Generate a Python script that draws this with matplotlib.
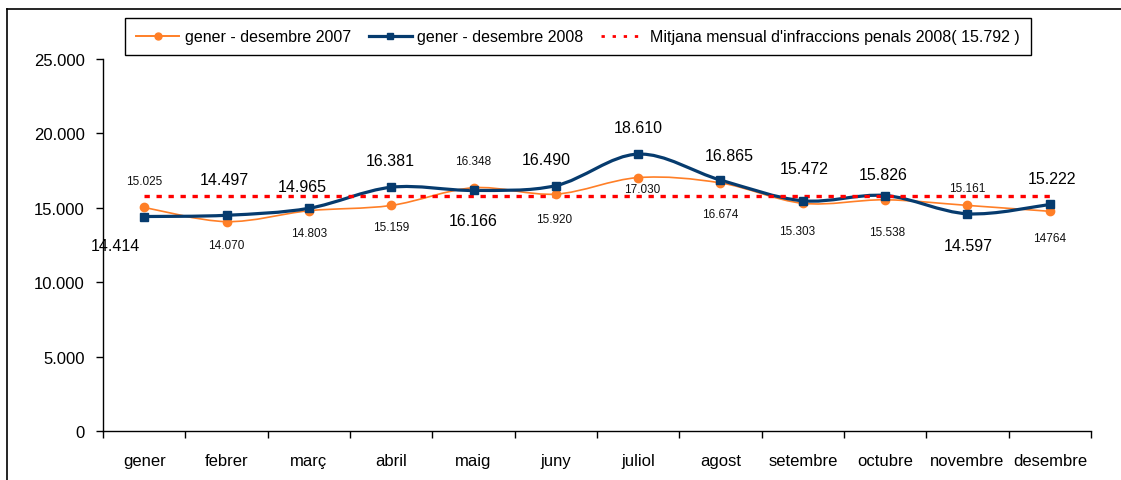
import matplotlib
matplotlib.use("Agg")
import matplotlib.pyplot as plt
from matplotlib.path import Path
from matplotlib.patches import PathPatch
from matplotlib.lines import Line2D
from matplotlib.ticker import FuncFormatter, FixedLocator
import numpy as np

plt.rcParams['font.family'] = ['Liberation Sans', 'DejaVu Sans']

# ---------------- data ----------------
months = ["gener", "febrer", "març", "abril", "maig", "juny", "juliol",
          "agost", "setembre", "octubre", "novembre", "desembre"]
values_2007 = [15025, 14070, 14803, 15159, 16348, 15920, 17030,
               16674, 15303, 15538, 15161, 14764]
labels_2007 = ["15.025", "14.070", "14.803", "15.159", "16.348", "15.920", "17.030",
               "16.674", "15.303", "15.538", "15.161", "14764"]
values_2008 = [14414, 14497, 14965, 16381, 16166, 16490, 18610,
               16865, 15472, 15826, 14597, 15222]
labels_2008 = ["14.414", "14.497", "14.965", "16.381", "16.166", "16.490", "18.610",
               "16.865", "15.472", "15.826", "14.597", "15.222"]
mean_2008 = 15792
mean_label = "15.792"
legend_labels = ["gener - desembre 2007", "gener - desembre 2008",
                 "Mitjana mensual d'infraccions penals 2008( " + mean_label + " )"]
yticks = [0, 5000, 10000, 15000, 20000, 25000]

# ---------------- layout (label offsets in pixels) ----------------
off_2008 = [(-29, 29), (-2, -36), (-7, -22), (-1, -27), (0, 30), (-10, -26),
            (0, -27), (9, -25), (1, -32), (-2, -21), (1, 32), (2, -26)]
off_2007 = [(0, -26), (0, 23), (0, 22), (0, 22), (0, -27), (-2, 25),
            (4, 11), (0, 31), (-6, 28), (2, 32), (0, -17), (0, 27)]

C07 = "#FF7F27"
C08 = "#063B6E"
CMEAN = "#FF0000"

W, H = 1121, 481
fig = plt.figure(figsize=(W / 100, H / 100), dpi=100)
ax = fig.add_axes([103 / W, 1 - 432 / H, (1091 - 103) / W, (432 - 60) / H])

x = np.arange(len(months))


def smooth_path(xs, ys):
    pts = np.column_stack([xs, ys]).astype(float)
    n = len(pts)
    verts = [pts[0]]
    codes = [Path.MOVETO]
    for i in range(n - 1):
        p0 = pts[i - 1] if i > 0 else pts[i]
        p1 = pts[i]
        p2 = pts[i + 1]
        p3 = pts[i + 2] if i + 2 < n else pts[i + 1]
        c1 = p1 + (p2 - p0) / 6.0
        c2 = p2 - (p3 - p1) / 6.0
        verts += [c1, c2, p2]
        codes += [Path.CURVE4] * 3
    return Path(verts, codes)


ax.add_patch(PathPatch(smooth_path(x, values_2007), fill=False, edgecolor=C07,
                       lw=1.2, zorder=2))
ax.add_patch(PathPatch(smooth_path(x, values_2008), fill=False, edgecolor=C08,
                       lw=2.3, zorder=3))
ax.plot([x[0], x[-1]], [mean_2008, mean_2008], color=CMEAN, lw=2.4,
        dashes=(1.6, 2.0), dash_capstyle='butt', zorder=4)
ax.plot(x, values_2007, ls='none', marker='o', ms=6, color=C07, zorder=5)
ax.plot(x, values_2008, ls='none', marker='s', ms=6, color=C08, zorder=6)

for xi, v, lab, (dx, dy) in zip(x, values_2008, labels_2008, off_2008):
    ax.annotate(lab, (xi, v), xytext=(dx, -dy), textcoords='offset pixels',
                ha='center', va='center', fontsize=11.5, color='black', zorder=7)
for xi, v, lab, (dx, dy) in zip(x, values_2007, labels_2007, off_2007):
    ax.annotate(lab, (xi, v), xytext=(dx, -dy), textcoords='offset pixels',
                ha='center', va='center', fontsize=8.5, color='#111111', zorder=7)

ax.set_xlim(-0.5, len(months) - 0.5)
ax.set_ylim(0, 25000)
ax.set_yticks(yticks)
ax.yaxis.set_major_formatter(FuncFormatter(lambda v, p: f"{int(v):,}".replace(",", ".")))
ax.xaxis.set_major_locator(FixedLocator(np.arange(-0.5, len(months), 1.0)))
ax.xaxis.set_major_formatter(FuncFormatter(lambda v, p: ""))
ax.set_xticks(x, minor=True)
ax.set_xticklabels(months, minor=True)
ax.tick_params(axis='x', which='major', direction='out', length=5, width=1)
ax.tick_params(axis='x', which='minor', length=0, pad=16, labelsize=12)
ax.tick_params(axis='y', direction='out', length=5, width=1, pad=8, labelsize=12)
for s in ['top', 'right']:
    ax.spines[s].set_visible(False)
for s in ['left', 'bottom']:
    ax.spines[s].set_linewidth(1.0)
    ax.spines[s].set_color('black')
ax.set_facecolor('white')

handles = [
    Line2D([], [], color=C07, lw=1.4, marker='o', ms=5),
    Line2D([], [], color=C08, lw=2.3, marker='s', ms=5),
    Line2D([], [], color=CMEAN, lw=2.0, dashes=(1.2, 2.8), dash_capstyle='butt'),
]
leg = fig.legend(handles, legend_labels, loc='upper left',
                 bbox_to_anchor=(125 / W, 1 - 19 / H), ncol=3, fontsize=11.5,
                 frameon=True, fancybox=False, edgecolor='black', framealpha=1,
                 handlelength=2.7, handletextpad=0.35, columnspacing=1.1,
                 borderpad=0.7, borderaxespad=0)
leg.get_frame().set_linewidth(1.0)

# figure frame (top and left visible)
fig.add_artist(Line2D([7 / W, 7 / W], [0, 1 - 10 / H], color='black', lw=1.2,
                      transform=fig.transFigure))
fig.add_artist(Line2D([7 / W, 1], [1 - 10 / H, 1 - 10 / H], color='black', lw=1.2,
                      transform=fig.transFigure))

fig.savefig("out.png", dpi=100, facecolor='white')
